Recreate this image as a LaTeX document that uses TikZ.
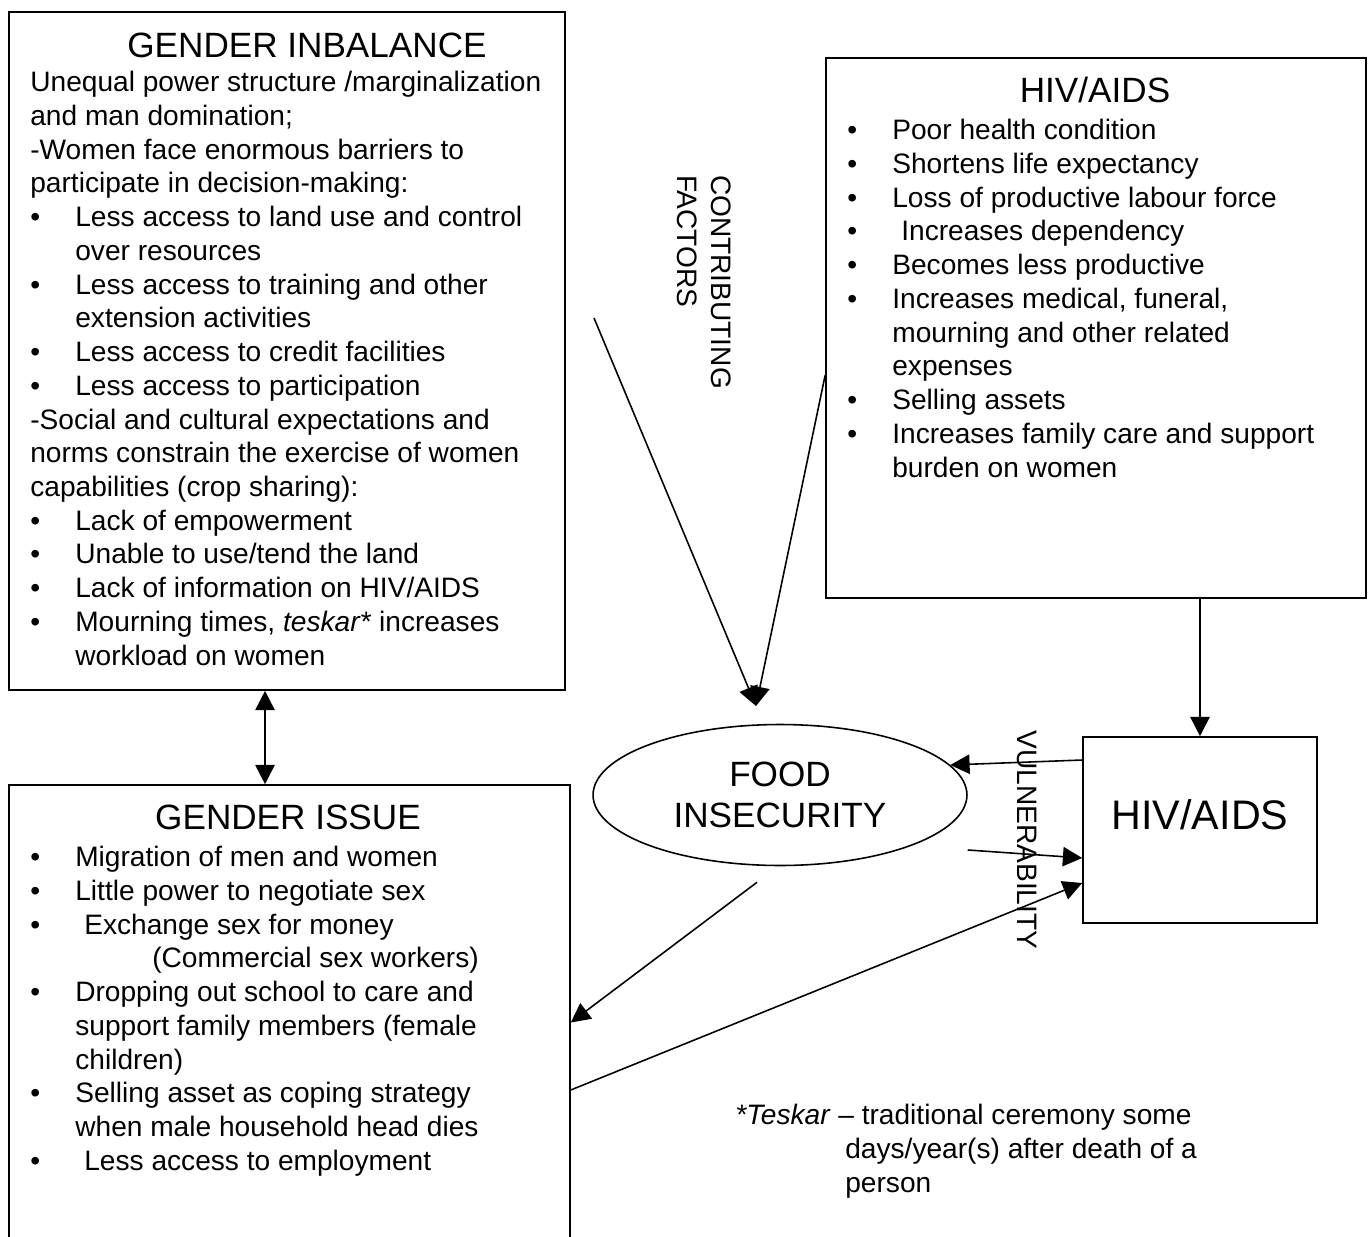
\documentclass[tikz,border=0pt]{standalone}
\usepackage{fontspec}
\setmainfont{Liberation Sans}
\usetikzlibrary{positioning,fit,shapes.geometric,arrows.meta}

\newcommand{\bodyfont}{\fontsize{16}{19.2}\selectfont}
\newcommand{\headfont}{\fontsize{20}{23.4}\selectfont}
\newcommand{\bul}{\makebox[0.9cm][l]{\textbullet}}
\newcommand{\ind}{\hspace*{0.9cm}}

\tikzset{
  panel/.style={draw, rectangle, inner sep=0pt, line width=0.9pt},
  body/.style={font=\bodyfont, align=left, inner sep=0pt, anchor=north west},
  head/.style={font=\headfont, inner sep=0pt},
  >={Triangle[length=11pt,width=11pt]}
}

\begin{document}
\begin{tikzpicture}[x=0.02cm, y=-0.02cm]
      \useasboundingbox (0,0) rectangle (1369,1237);
      \clip (0,0) rectangle (1369,1237);

      % left top: gender inbalance
      \node[panel, fit={(9,12) (565,690)}] (gi) {};
      \node[head] (gi-title) at (307,45) {GENDER INBALANCE};
      \node[body] (gi-text) at (30,71) {Unequal power structure /marginalization\\
        and man domination;\\
        -Women face enormous barriers to\\
        participate in decision-making:\\
        \bul Less access to land use and control\\
        \ind over resources\\
        \bul Less access to training and other\\
        \ind extension activities\\
        \bul Less access to credit facilities\\
        \bul Less access to participation\\
        -Social and cultural expectations and\\
        norms constrain the exercise of women\\
        capabilities (crop sharing):\\
        \bul Lack of empowerment\\
        \bul Unable to use/tend the land\\
        \bul Lack of information on HIV/AIDS\\
        \bul Mourning times, \textit{teskar*} increases\\
        \ind workload on women};

      % right top: hiv/aids
      \node[panel, fit={(826,58) (1366,598)}] (hivbig) {};
      \node[head] (hiv-title) at (1095,90) {HIV/AIDS};
      \node[body] (hiv-text) at (847,119) {\bul Poor health condition\\
        \bul Shortens life expectancy\\
        \bul Loss of productive labour force\\
        \bul \hspace*{0.18cm}Increases dependency\\
        \bul Becomes less productive\\
        \bul Increases medical, funeral,\\
        \ind mourning and other related\\
        \ind expenses\\
        \bul Selling assets\\
        \bul Increases family care and support\\
        \ind burden on women};

      % left bottom: gender issue
      \node[panel, fit={(9,785) (570,1260)}] (gis) {};
      \node[head] (gis-title) at (288,817) {GENDER ISSUE};
      \node[body] (gis-text) at (30,846) {\bul Migration of men and women\\
        \bul Little power to negotiate sex\\
        \bul \hspace*{0.18cm}Exchange sex for money\\
        \hspace*{2.44cm}(Commercial sex workers)\\
        \bul Dropping out school to care and\\
        \ind support family members (female\\
        \ind children)\\
        \bul Selling asset as coping strategy\\
        \ind when male household head dies\\
        \bul \hspace*{0.18cm}Less access to employment};

      % centre and right
      \node[draw, ellipse, line width=0.9pt, minimum width=7.48cm, minimum height=2.82cm,
            font=\headfont, align=center] (fi) at (780,795) {FOOD\\INSECURITY};
      \node[panel, fit={(1083,737) (1317,923)}, font=\fontsize{23.5}{28}\selectfont] (hivs) {HIV/AIDS};

      \node[font=\bodyfont, align=left, inner sep=0pt, rotate=-90] (contrib) at (704,282)
        {CONTRIBUTING\\FACTORS};
      \node[font=\bodyfont, inner sep=0pt, rotate=-90] (vuln) at (1027,840) {VULNERABILITY};

      \node[body] (note) at (735,1104) {\textit{*Teskar} -- traditional ceremony some\\
        \hspace*{2.2cm}days/year(s) after death of a\\
        \hspace*{2.2cm}person};

      \coordinate (cfstart) at (594,318);
      \coordinate (fitop) at (756,706);

      \path[->, line width=0.9pt]
      (cfstart) edge (fitop)
      ([yshift=-0.94cm]hivbig.west) edge (fitop)
      (hivbig.south -| hivs.north) edge (hivs.north)
      ([xshift=-0.44cm]gi.south) edge[<->] ([xshift=-0.49cm]gis.north)
      ([yshift=1.4cm]hivs.west) edge (fi.10)
      ([yshift=-1.1cm]fi.east) edge ([yshift=-0.56cm]hivs.west)
      ([xshift=-0.46cm,yshift=-0.32cm]fi.south) edge (gis.east)
      ([yshift=-1.35cm]gis.east) edge ([yshift=-1.06cm]hivs.west)
      ;

\end{tikzpicture}
\end{document}
